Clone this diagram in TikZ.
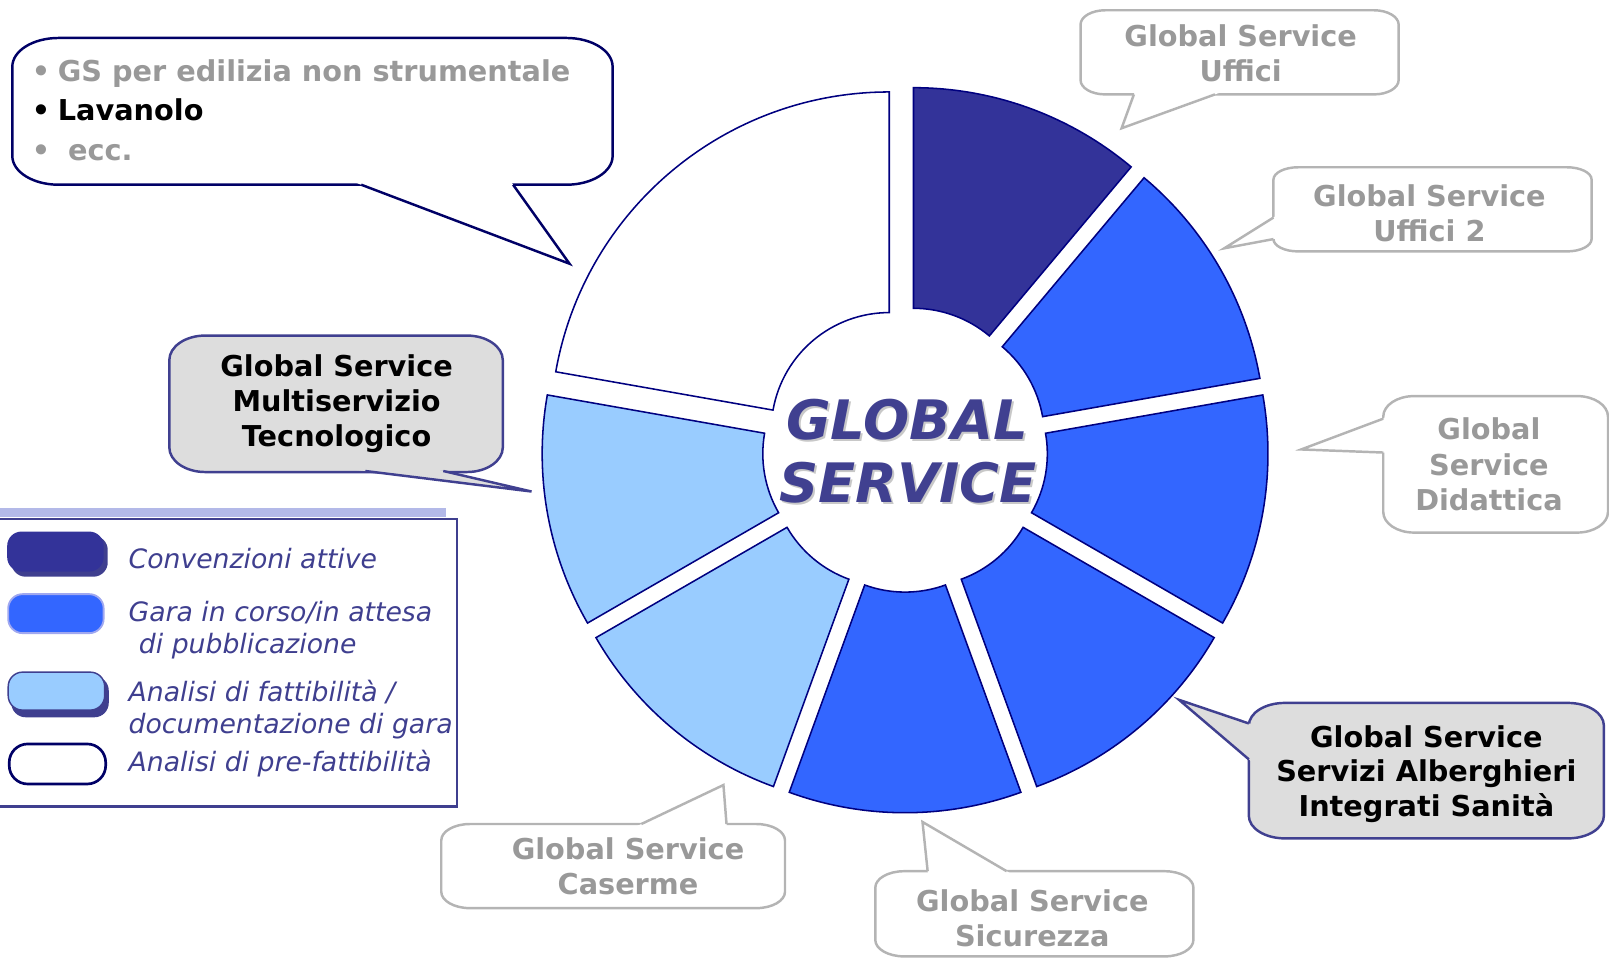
\documentclass[tikz,border=0pt]{standalone}
\usepackage{fontspec}
\setmainfont{DejaVu Sans}
\usetikzlibrary{calc}
\definecolor{dkseg}{HTML}{333399}
\definecolor{mdseg}{HTML}{3366FF}
\definecolor{ltseg}{HTML}{99CCFF}
\definecolor{segline}{HTML}{000080}
\definecolor{navyline}{HTML}{000066}
\definecolor{bubline}{HTML}{404090}
\definecolor{graybubline}{HTML}{B4B4B4}
\definecolor{graytext}{HTML}{999999}
\definecolor{bubfill}{HTML}{DDDDDD}
\definecolor{titletext}{HTML}{404090}
\definecolor{legtext}{HTML}{3F3F8F}
\definecolor{legbar}{HTML}{B3B9E8}
\definecolor{legshadow}{HTML}{3F3F8F}
\definecolor{legblueline}{HTML}{A0A8F0}
\definecolor{titleshadow}{HTML}{C8C8C8}
\newcommand\bubblepath[6]{({#1},{#2+#6}) arc[start angle=180,end angle=270,x radius=#5,y radius=#6] -- ({#3-#5},{#2}) arc[start angle=270,end angle=360,x radius=#5,y radius=#6] -- ({#3},{#4-#6}) arc[start angle=0,end angle=90,x radius=#5,y radius=#6] -- ({#1+#5},{#4}) arc[start angle=90,end angle=180,x radius=#5,y radius=#6] -- cycle}
\newcommand\callptr[5]{%
  \fill[#1] ($(#3)!-0.15!(#4)$) -- (#4) -- ($(#5)!-0.15!(#4)$) -- cycle;
  \draw[#2] (#3) -- (#4) -- (#5);}
\begin{document}
\begin{tikzpicture}[x=0.5pt,y=-0.5pt,
  seg/.style={draw=segline,line width=0.75pt},
  graybub/.style={draw=graybubline,fill=white,line width=1.2pt},
  bluebub/.style={draw=bubline,fill=bubfill,line width=1.2pt},
  navybub/.style={draw=navyline,fill=white,line width=1.2pt},
  grayptr/.style={draw=graybubline,line width=1.2pt},
  blueptr/.style={draw=bubline,line width=1.2pt},
  navyptr/.style={draw=navyline,line width=1.2pt},
  ctext/.style={font=\fontsize{14}{17}\selectfont\bfseries,inner sep=0pt,anchor=base},
  gtext/.style={ctext,text=graytext},
  ktext/.style={ctext,text=black},
  legtxt/.style={font=\fontsize{13}{15}\selectfont\itshape,text=legtext,inner sep=0pt,anchor=base west},
  title/.style={font=\fontsize{26.5}{30}\selectfont\bfseries\itshape,inner sep=0pt,anchor=base}]
\useasboundingbox (0,0) rectangle (1568,937);

% donut segments (exploded)
\foreach \c/\a/\b in {dkseg/50/90, mdseg/10/50, mdseg/-30/10, mdseg/-70/-30, mdseg/-110/-70, ltseg/-150/-110, ltseg/170/210, white/90/170}{
  \pgfmathsetmacro\ta{-\a}
  \pgfmathsetmacro\tb{-\b}
  \pgfmathsetmacro\tm{-(\a+\b)/2}
  \filldraw[seg, fill=\c, shift={(882,438)}, shift={(\tm:24)}] (\ta:115) -- (\ta:330) arc[start angle=\ta, end angle=\tb, radius=330] -- (\tb:115) arc[start angle=\tb, end angle=\ta, radius=115] -- cycle;
}

% title
\node[title, text=titleshadow] (gshad) at (886,430) {GLOBAL};
\node[title, text=titleshadow] (sshad) at (887,492) {SERVICE};
\node[title, text=titletext] (glob) at (884,428) {GLOBAL};
\node[title, text=titletext] (serv) at (885,490) {SERVICE};

% coordinates for pointers
\coordinate (tlA) at (352,180); \coordinate (tlT) at (555,257); \coordinate (tlB) at (500,180);
\coordinate (muA) at (356,459); \coordinate (muT) at (518,479); \coordinate (muB) at (432,459);
\coordinate (ufA) at (1105,92); \coordinate (ufT) at (1093,125); \coordinate (ufB) at (1184,92);
\coordinate (u2A) at (1241,212); \coordinate (u2T) at (1193,242); \coordinate (u2B) at (1241,233);
\coordinate (diA) at (1348,408); \coordinate (diT) at (1268,438); \coordinate (diB) at (1348,441);
\coordinate (saA) at (1217,705); \coordinate (saT) at (1149,682); \coordinate (saB) at (1217,740);
\coordinate (caA) at (625,803); \coordinate (caT) at (705,765); \coordinate (caB) at (708,803);
\coordinate (siA) at (904,849); \coordinate (siT) at (899,801); \coordinate (siB) at (981,849);

% callout A (top left)
\path[navybub] \bubblepath{12}{37}{597}{180}{45}{28};
\callptr{white}{navyptr}{tlA}{tlT}{tlB}
\node[gtext] (tlb1) at (40,79) {•};
\node[gtext, anchor=base west] (tl1) at (56,79) {GS per edilizia non strumentale};
\node[ktext] (tlb2) at (40,117) {•};
\node[ktext, anchor=base west] (tl2) at (56,117) {Lavanolo};
\node[gtext] (tlb3) at (40,156) {•};
\node[gtext, anchor=base west] (tl3) at (66,156) {ecc.};

% callout B (Multiservizio)
\path[bluebub] \bubblepath{165}{327}{490}{460}{35}{24};
\callptr{bubfill}{blueptr}{muA}{muT}{muB}
\node[ktext] (mu1) at (328,367) {Global Service};
\node[ktext] (mu2) at (328,401) {Multiservizio};
\node[ktext] (mu3) at (328,435) {Tecnologico};

% callout C (Uffici)
\path[graybub] \bubblepath{1053}{10}{1363}{92}{24}{14};
\callptr{white}{grayptr}{ufA}{ufT}{ufB}
\node[gtext] (uf1) at (1209,45) {Global Service};
\node[gtext] (uf2) at (1209,79) {Uffici};

% callout D (Uffici 2)
\path[graybub] \bubblepath{1241}{163}{1551}{245}{24}{12};
\callptr{white}{grayptr}{u2A}{u2T}{u2B}
\node[gtext] (ud1) at (1393,201) {Global Service};
\node[gtext] (ud2) at (1393,235) {Uffici 2};

% callout E (Didattica)
\path[graybub] \bubblepath{1348}{386}{1567}{519}{30}{20};
\callptr{white}{grayptr}{diA}{diT}{diB}
\node[gtext] (di1) at (1451,428) {Global};
\node[gtext] (di2) at (1451,463) {Service};
\node[gtext] (di3) at (1451,497) {Didattica};

% callout F (Sanita)
\path[bluebub] \bubblepath{1217}{685}{1563}{817}{35}{22};
\callptr{bubfill}{blueptr}{saA}{saT}{saB}
\node[ktext] (sa1) at (1390,728) {Global Service};
\node[ktext] (sa2) at (1390,762) {Servizi Alberghieri};
\node[ktext] (sa3) at (1390,796) {Integrati Sanità};

% callout G (Caserme)
\path[graybub] \bubblepath{430}{803}{765}{885}{28}{16};
\callptr{white}{grayptr}{caA}{caT}{caB}
\node[gtext] (ca1) at (612,838) {Global Service};
\node[gtext] (ca2) at (612,872) {Caserme};

% callout H (Sicurezza)
\path[graybub] \bubblepath{853}{849}{1163}{932}{28}{16};
\callptr{white}{grayptr}{siA}{siT}{siB}
\node[gtext] (si1) at (1006,888) {Global Service};
\node[gtext] (si2) at (1006,922) {Sicurezza};

% legend
\fill[legbar] (0,495) rectangle (435,504);
\draw[draw=legshadow, line width=1.1pt] (-5,506) rectangle (445,786);
\fill[legshadow, rounded corners=7] (11,522) rectangle (105,562);
\fill[dkseg, rounded corners=7] (7,518) rectangle (101,557);
\filldraw[fill=mdseg, draw=legblueline, line width=0.9pt, rounded corners=7] (8,579) rectangle (101,617);
\fill[legshadow, rounded corners=7] (11,659) rectangle (106,699);
\filldraw[fill=ltseg, draw=legshadow, line width=0.7pt, rounded corners=7] (8,655) rectangle (102,692);
\filldraw[fill=white, draw=navyline, line width=1.3pt, rounded corners=9] (9,725) rectangle (103,764);
\node[legtxt] (lg1) at (125,554) {Convenzioni attive};
\node[legtxt] (lg2) at (125,606) {Gara in corso/in attesa};
\node[legtxt] (lg2b) at (135,637) {di pubblicazione};
\node[legtxt] (lg3) at (125,684) {Analisi di fattibilità /};
\node[legtxt] (lg3b) at (125,715) {documentazione di gara};
\node[legtxt] (lg4) at (125,752) {Analisi di pre-fattibilità};
\end{tikzpicture}
\end{document}
